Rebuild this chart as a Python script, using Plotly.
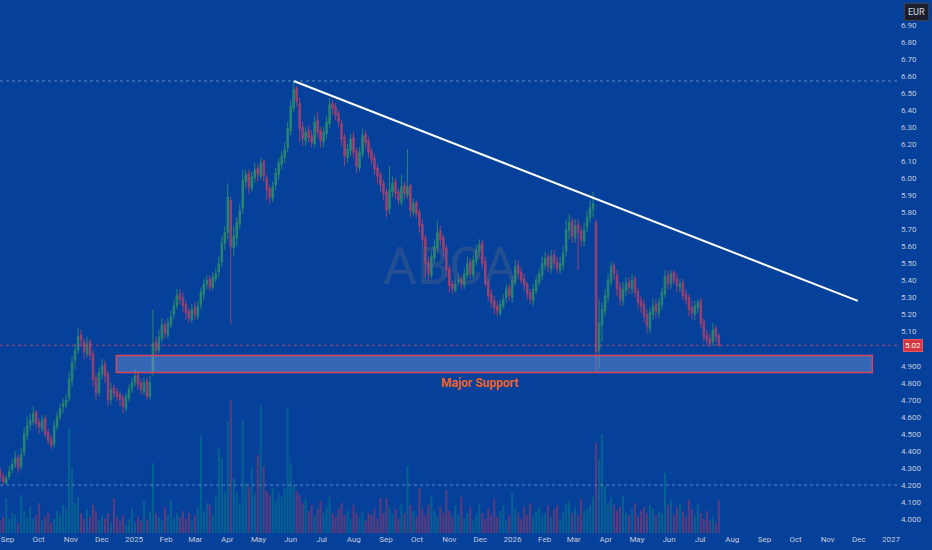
import pandas as pd
import plotly.graph_objects as go

# daily-ish candles (every ~2 sessions)
open_ = [
    4.28, 4.25, 4.21, 4.25, 4.29, 4.32, 4.36, 4.31, 4.39, 4.49,
    4.55, 4.57, 4.63, 4.57, 4.53, 4.59, 4.51, 4.47, 4.44, 4.54,
    4.60, 4.66, 4.67, 4.71, 4.81, 4.93, 4.99, 5.08, 5.04, 4.97,
    5.04, 4.97, 4.83, 4.74, 4.85, 4.91, 4.85, 4.70, 4.77, 4.75,
    4.73, 4.71, 4.65, 4.71, 4.77, 4.80, 4.85, 4.80, 4.75, 4.81,
    4.72, 4.86, 5.04, 4.99, 5.06, 5.14, 5.08, 5.14, 5.20, 5.25,
    5.32, 5.30, 5.26, 5.22, 5.17, 5.24, 5.19, 5.26, 5.32, 5.38,
    5.41, 5.36, 5.41, 5.45, 5.51, 5.62, 5.68, 5.87, 5.59, 5.65,
    5.73, 5.82, 5.98, 6.03, 5.94, 6.00, 6.06, 6.01, 6.10, 6.00,
    5.94, 5.88, 5.96, 6.02, 6.08, 6.12, 6.18, 6.28, 6.41, 6.53,
    6.44, 6.30, 6.22, 6.28, 6.25, 6.20, 6.34, 6.28, 6.21, 6.26,
    6.32, 6.44, 6.42, 6.38, 6.32, 6.24, 6.12, 6.16, 6.24, 6.16,
    6.06, 6.14, 6.26, 6.22, 6.16, 6.12, 6.06, 6.02, 5.97, 5.92,
    5.82, 5.92, 5.98, 5.92, 5.86, 5.96, 5.90, 5.96, 5.80, 5.86,
    5.80, 5.73, 5.65, 5.51, 5.43, 5.53, 5.59, 5.69, 5.65, 5.59,
    5.47, 5.38, 5.34, 5.39, 5.41, 5.37, 5.43, 5.51, 5.43, 5.51,
    5.57, 5.62, 5.51, 5.39, 5.32, 5.28, 5.25, 5.21, 5.25, 5.30,
    5.36, 5.30, 5.39, 5.49, 5.45, 5.41, 5.38, 5.33, 5.28, 5.34,
    5.39, 5.43, 5.49, 5.54, 5.47, 5.55, 5.51, 5.46, 5.49, 5.57,
    5.69, 5.75, 5.65, 5.73, 5.69, 5.63, 5.71, 5.77, 5.82, 5.74,
    4.99, 5.14, 5.22, 5.30, 5.39, 5.49, 5.43, 5.36, 5.28, 5.34,
    5.39, 5.35, 5.41, 5.34, 5.28, 5.26, 5.20, 5.12, 5.20, 5.26,
    5.21, 5.26, 5.32, 5.43, 5.38, 5.45, 5.41, 5.36, 5.39, 5.32,
    5.30, 5.24, 5.20, 5.24, 5.28, 5.16, 5.08, 5.06, 5.04, 5.12,
    5.08,
]
high = [
    4.30, 4.27, 4.26, 4.31, 4.35, 4.40, 4.38, 4.42, 4.54, 4.60,
    4.62, 4.66, 4.64, 4.59, 4.61, 4.61, 4.53, 4.49, 4.58, 4.63,
    4.68, 4.71, 4.73, 4.86, 4.96, 5.03, 5.12, 5.11, 5.06, 5.07,
    5.06, 4.99, 4.85, 4.89, 4.94, 4.93, 4.87, 4.80, 4.79, 4.77,
    4.75, 4.73, 4.74, 4.79, 4.83, 4.88, 4.86, 4.82, 4.83, 4.83,
    4.84, 5.23, 5.07, 5.11, 5.18, 5.16, 5.18, 5.22, 5.29, 5.35,
    5.35, 5.33, 5.28, 5.24, 5.26, 5.27, 5.28, 5.36, 5.41, 5.43,
    5.43, 5.45, 5.47, 5.54, 5.66, 5.72, 5.97, 5.89, 5.72, 5.77,
    5.85, 6.05, 6.05, 6.05, 6.04, 6.09, 6.08, 6.12, 6.11, 6.02,
    5.96, 5.98, 6.06, 6.12, 6.16, 6.21, 6.33, 6.46, 6.57, 6.54,
    6.47, 6.33, 6.30, 6.31, 6.28, 6.37, 6.39, 6.30, 6.30, 6.36,
    6.47, 6.46, 6.44, 6.40, 6.34, 6.26, 6.20, 6.26, 6.27, 6.18,
    6.18, 6.29, 6.28, 6.24, 6.18, 6.14, 6.08, 6.04, 5.99, 5.94,
    6.07, 6.01, 6.00, 5.94, 6.02, 5.98, 6.17, 5.97, 5.88, 5.87,
    5.82, 5.76, 5.67, 5.54, 5.57, 5.64, 5.75, 5.72, 5.67, 5.61,
    5.49, 5.40, 5.41, 5.44, 5.43, 5.47, 5.54, 5.53, 5.55, 5.61,
    5.64, 5.64, 5.54, 5.41, 5.35, 5.31, 5.28, 5.29, 5.32, 5.38,
    5.38, 5.43, 5.52, 5.52, 5.48, 5.44, 5.39, 5.35, 5.38, 5.43,
    5.47, 5.54, 5.57, 5.56, 5.58, 5.58, 5.54, 5.54, 5.60, 5.76,
    5.79, 5.77, 5.76, 5.76, 5.72, 5.74, 5.81, 5.87, 5.92, 5.76,
    5.29, 5.27, 5.35, 5.44, 5.51, 5.51, 5.46, 5.39, 5.39, 5.42,
    5.42, 5.44, 5.43, 5.36, 5.31, 5.29, 5.23, 5.24, 5.29, 5.29,
    5.30, 5.36, 5.46, 5.46, 5.46, 5.46, 5.44, 5.41, 5.41, 5.35,
    5.32, 5.28, 5.28, 5.29, 5.30, 5.18, 5.11, 5.09, 5.15, 5.14,
    5.09,
]
low = [
    4.22, 4.20, 4.21, 4.23, 4.27, 4.30, 4.27, 4.29, 4.37, 4.46,
    4.52, 4.55, 4.53, 4.50, 4.51, 4.48, 4.44, 4.41, 4.42, 4.52,
    4.58, 4.62, 4.65, 4.69, 4.78, 4.88, 4.97, 5.01, 4.94, 4.95,
    4.93, 4.78, 4.70, 4.72, 4.82, 4.80, 4.66, 4.67, 4.71, 4.69,
    4.66, 4.62, 4.63, 4.69, 4.74, 4.78, 4.76, 4.73, 4.73, 4.70,
    4.70, 4.84, 4.96, 4.97, 5.04, 5.06, 5.06, 5.12, 5.17, 5.23,
    5.26, 5.21, 5.17, 5.15, 5.15, 5.17, 5.17, 5.23, 5.29, 5.35,
    5.34, 5.34, 5.39, 5.42, 5.48, 5.58, 5.64, 5.14, 5.54, 5.60,
    5.70, 5.79, 5.94, 5.91, 5.92, 5.97, 5.98, 5.99, 5.98, 5.87,
    5.85, 5.86, 5.93, 5.99, 6.05, 6.09, 6.15, 6.25, 6.39, 6.42,
    6.21, 6.19, 6.19, 6.21, 6.18, 6.18, 6.24, 6.18, 6.18, 6.23,
    6.29, 6.37, 6.34, 6.30, 6.19, 6.07, 6.09, 6.13, 6.12, 6.03,
    6.04, 6.12, 6.18, 6.12, 6.08, 6.02, 5.97, 5.92, 5.87, 5.77,
    5.79, 5.89, 5.88, 5.84, 5.84, 5.88, 5.88, 5.77, 5.78, 5.77,
    5.68, 5.60, 5.42, 5.40, 5.41, 5.50, 5.56, 5.60, 5.54, 5.42,
    5.33, 5.32, 5.33, 5.37, 5.35, 5.35, 5.41, 5.41, 5.41, 5.49,
    5.54, 5.47, 5.36, 5.28, 5.24, 5.20, 5.19, 5.19, 5.23, 5.27,
    5.28, 5.27, 5.37, 5.41, 5.38, 5.34, 5.29, 5.26, 5.25, 5.32,
    5.37, 5.40, 5.46, 5.45, 5.44, 5.47, 5.44, 5.44, 5.46, 5.54,
    5.64, 5.62, 5.62, 5.46, 5.60, 5.60, 5.68, 5.74, 5.77, 4.86,
    4.88, 5.04, 5.19, 5.27, 5.37, 5.40, 5.31, 5.25, 5.25, 5.31,
    5.32, 5.32, 5.30, 5.23, 5.21, 5.15, 5.09, 5.09, 5.17, 5.18,
    5.18, 5.23, 5.30, 5.35, 5.35, 5.38, 5.33, 5.33, 5.28, 5.26,
    5.19, 5.17, 5.17, 5.21, 5.12, 5.04, 5.02, 5.01, 5.02, 5.04,
    5.01,
]
close = [
    4.25, 4.22, 4.24, 4.28, 4.32, 4.36, 4.30, 4.38, 4.50, 4.55,
    4.58, 4.62, 4.56, 4.54, 4.58, 4.50, 4.46, 4.43, 4.55, 4.60,
    4.65, 4.68, 4.70, 4.82, 4.92, 4.99, 5.07, 5.05, 4.98, 5.03,
    4.96, 4.82, 4.74, 4.86, 4.90, 4.84, 4.70, 4.76, 4.74, 4.72,
    4.70, 4.66, 4.72, 4.76, 4.80, 4.84, 4.79, 4.76, 4.80, 4.72,
    4.80, 5.03, 4.99, 5.07, 5.14, 5.09, 5.15, 5.19, 5.25, 5.31,
    5.29, 5.25, 5.21, 5.18, 5.23, 5.20, 5.25, 5.33, 5.38, 5.40,
    5.36, 5.42, 5.44, 5.50, 5.62, 5.68, 5.89, 5.60, 5.66, 5.74,
    5.81, 5.99, 6.02, 5.95, 6.01, 6.05, 6.02, 6.09, 6.01, 5.93,
    5.89, 5.95, 6.03, 6.09, 6.13, 6.17, 6.29, 6.42, 6.52, 6.45,
    6.29, 6.23, 6.27, 6.24, 6.21, 6.33, 6.27, 6.22, 6.27, 6.33,
    6.43, 6.41, 6.37, 6.33, 6.23, 6.13, 6.17, 6.23, 6.15, 6.07,
    6.15, 6.25, 6.21, 6.15, 6.11, 6.05, 6.01, 5.96, 5.91, 5.81,
    5.93, 5.97, 5.91, 5.87, 5.95, 5.91, 5.95, 5.81, 5.85, 5.79,
    5.72, 5.64, 5.50, 5.44, 5.54, 5.60, 5.68, 5.64, 5.58, 5.46,
    5.37, 5.35, 5.38, 5.40, 5.38, 5.44, 5.50, 5.44, 5.52, 5.58,
    5.61, 5.50, 5.38, 5.31, 5.27, 5.24, 5.22, 5.26, 5.29, 5.35,
    5.31, 5.40, 5.48, 5.44, 5.40, 5.37, 5.32, 5.29, 5.35, 5.40,
    5.44, 5.50, 5.53, 5.48, 5.54, 5.50, 5.47, 5.50, 5.56, 5.70,
    5.74, 5.66, 5.72, 5.68, 5.64, 5.70, 5.77, 5.83, 5.85, 4.98,
    5.15, 5.23, 5.31, 5.40, 5.48, 5.44, 5.35, 5.29, 5.35, 5.38,
    5.36, 5.40, 5.33, 5.27, 5.25, 5.19, 5.13, 5.21, 5.25, 5.22,
    5.27, 5.33, 5.42, 5.38, 5.44, 5.40, 5.37, 5.38, 5.31, 5.29,
    5.23, 5.21, 5.25, 5.27, 5.15, 5.07, 5.05, 5.03, 5.11, 5.07,
    5.02,
]
volume = [
    12, 16, 35, 14, 20, 18, 10, 38, 22, 15,
    26, 14, 18, 30, 12, 16, 20, 10, 14, 22,
    18, 28, 24, 105, 65, 30, 36, 20, 14, 24,
    16, 28, 22, 12, 18, 14, 20, 10, 35, 16,
    12, 18, 8, 14, 24, 10, 16, 12, 32, 14,
    22, 70, 20, 16, 12, 26, 18, 33, 14, 20,
    16, 22, 14, 20, 12, 18, 25, 97, 22, 30,
    28, 18, 36, 85, 75, 40, 112, 133, 55, 40,
    30, 113, 50, 46, 65, 40, 78, 128, 67, 42,
    38, 45, 32, 40, 36, 44, 125, 70, 48, 42,
    38, 30, 34, 22, 28, 18, 24, 32, 20, 26,
    36, 20, 16, 24, 30, 18, 22, 14, 28, 20,
    16, 22, 12, 20, 18, 24, 14, 35, 20, 35,
    26, 18, 24, 14, 30, 20, 67, 28, 22, 16,
    45, 24, 18, 28, 37, 22, 16, 26, 20, 43,
    22, 16, 28, 18, 36, 14, 20, 26, 12, 18,
    30, 20, 14, 24, 18, 34, 16, 22, 28, 12,
    18, 40, 24, 20, 14, 26, 18, 30, 16, 22,
    26, 18, 20, 28, 16, 24, 28, 14, 22, 30,
    32, 20, 26, 18, 34, 22, 24, 28, 36, 90,
    73, 99, 47, 30, 35, 28, 22, 26, 37, 20,
    18, 24, 30, 16, 22, 26, 20, 28, 24, 18,
    22, 20, 60, 28, 34, 18, 26, 30, 22, 16,
    33, 24, 18, 28, 20, 14, 22, 12, 16, 10,
    33,
]
dates = pd.date_range("2024-08-25", "2026-07-19", periods=len(close))

# drawings
trend_dates = ["2025-06-04", "2026-11-30"]
trend_prices = [6.57, 5.28]
support_dates = ["2024-12-15", "2026-12-14"]
support_low, support_high = 4.86, 4.96
range_high, range_low, last_price = 6.57, 4.20, 5.02

price_ticks = [6.90, 6.80, 6.70, 6.60, 6.50, 6.40, 6.30, 6.20, 6.10, 6.00,
               5.90, 5.80, 5.70, 5.60, 5.50, 5.40, 5.30, 5.20, 5.10,
               4.90, 4.80, 4.70, 4.60, 4.50, 4.40, 4.30, 4.20, 4.10, 4.00]
price_labels = ["6.90", "6.80", "6.70", "6.60", "6.50", "6.40", "6.30", "6.20", "6.10", "6.00",
                "5.90", "5.80", "5.70", "5.60", "5.50", "5.40", "5.30", "5.20", "5.10",
                "4.900", "4.800", "4.700", "4.600", "4.500", "4.400", "4.300", "4.200", "4.100", "4.000"]
month_ticks = pd.date_range("2024-09-01", "2027-01-01", freq="MS")
month_labels = ["Sep", "Oct", "Nov", "Dec", "2025", "Feb", "Mar", "Apr", "May", "Jun", "Jul", "Aug",
                "Sep", "Oct", "Nov", "Dec", "2026", "Feb", "Mar", "Apr", "May", "Jun", "Jul", "Aug",
                "Sep", "Oct", "Nov", "Dec", "2027"]

BG = "#05409b"
TXT = "#c3cad8"
UP = "#2a8670"
DOWN = "#9c416f"

vol_colors = ["rgba(8,153,129,0.36)" if c >= o else "rgba(242,54,69,0.36)"
              for o, c in zip(open_, close)]

fig = go.Figure()

fig.add_trace(go.Bar(x=dates, y=volume, marker_color=vol_colors, marker_line_width=0,
                     yaxis="y2", hoverinfo="skip"))

fig.add_trace(go.Candlestick(
    x=dates, open=open_, high=high, low=low, close=close,
    increasing=dict(line=dict(color=UP, width=1), fillcolor=UP),
    decreasing=dict(line=dict(color=DOWN, width=1), fillcolor=DOWN),
))

fig.add_trace(go.Scatter(x=trend_dates, y=trend_prices, mode="lines",
                         line=dict(color="white", width=2), hoverinfo="skip"))

# support zone
fig.add_shape(type="rect", x0=support_dates[0], x1=support_dates[1],
              y0=support_low, y1=support_high, xref="x", yref="y",
              fillcolor="rgba(120,160,220,0.42)", line=dict(color="#d8455e", width=1.5))
fig.add_annotation(x="2025-11-30", y=4.80, text="<b>Major Support</b>", showarrow=False,
                   font=dict(color="#f0622a", size=12, family="Roboto"))

# range high / low and last price lines
for lvl, col in [(range_high, "rgba(170,180,205,0.6)"), (range_low, "rgba(170,180,205,0.6)"),
                 (last_price, "rgba(225,70,95,0.8)")]:
    fig.add_shape(type="line", xref="paper", x0=0, x1=1, yref="y", y0=lvl, y1=lvl,
                  line=dict(color=col, width=1, dash="dot"))

fig.add_annotation(xref="paper", x=1.003, xanchor="left", yref="y", y=last_price,
                   text="5.02", showarrow=False, bgcolor="#d7343f",
                   bordercolor="#e85a63", borderwidth=1, borderpad=1,
                   font=dict(color="white", size=8, family="Roboto"))
fig.add_annotation(xref="paper", x=1.004, xanchor="left", yref="paper", y=1.0, yanchor="top",
                   yshift=-3, text="EUR", showarrow=False, bgcolor="#1c1f2b",
                   bordercolor="#3b3f4d", borderwidth=1, borderpad=3,
                   font=dict(color="#d8dbe3", size=9, family="Roboto"))

# watermark
fig.add_annotation(xref="paper", yref="paper", x=0.5, y=0.5, text="ABCA", showarrow=False,
                   font=dict(color="rgba(95,105,130,0.35)", size=52, family="Roboto"))

fig.update_layout(
    width=932, height=550,
    margin=dict(l=0, r=32, t=0, b=17),
    paper_bgcolor=BG, plot_bgcolor=BG,
    showlegend=False, bargap=0.3,
    font=dict(family="Roboto", color=TXT, size=8),
    xaxis=dict(range=["2024-08-24 19:00", "2027-01-09 17:00"], rangeslider=dict(visible=False),
               tickvals=month_ticks, ticktext=month_labels, showgrid=False, zeroline=False,
               ticks="", tickfont=dict(size=8, color=TXT)),
    yaxis=dict(range=[3.919, 7.045], side="right", tickvals=price_ticks, ticktext=price_labels,
               showgrid=False, zeroline=False, ticks="", tickfont=dict(size=8, color=TXT)),
    yaxis2=dict(range=[0, 533], overlaying="y", visible=False, fixedrange=True),
)

fig.write_html("out.html", config={"displayModeBar": False},
               post_script="document.body.style.margin='0';")
